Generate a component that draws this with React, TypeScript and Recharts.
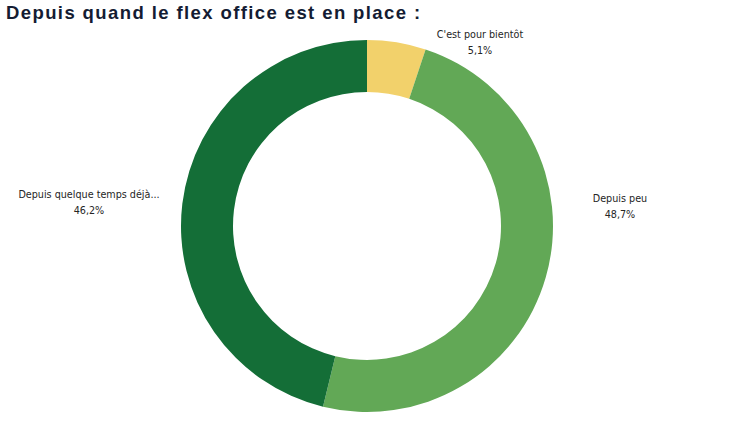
import React from 'react';
import { PieChart, Pie, Cell } from 'recharts';

const categories = ["C'est pour bientôt", 'Depuis peu', 'Depuis quelque temps déjà...'];
const shares = [5.1, 48.7, 46.2];
const colors = ['#F2D16B', '#62A856', '#146E37'];

// where each label sits, relative to the pie centre
const labelOffsets = [
  { dx: 113, dy: -188 },
  { dx: 253, dy: -24 },
  { dx: -278, dy: -28 },
];

const data = categories.map((name, i) => ({ name, value: shares[i] }));

const fmt = (v: number) => `${v.toFixed(1).replace('.', ',')}%`;

const renderLabel = (props: any) => {
  const { cx, cy, index, value } = props;
  const off = labelOffsets[index];
  const x = cx + off.dx;
  const y = cy + off.dy;
  return (
    <text
      x={x}
      y={y}
      textAnchor="middle"
      fill="#252525"
      fontSize={10.7}
      fontFamily="'DejaVu Sans Condensed', 'Liberation Sans Narrow', sans-serif"
    >
      <tspan x={x} dy={0}>{categories[index]}</tspan>
      <tspan x={x} dy={15.5}>{fmt(value)}</tspan>
    </text>
  );
};

export default function App() {
  return (
    <div style={{ position: 'absolute', left: 0, top: 0, width: 736, height: 433, background: '#fff' }}>
      <div
        style={{
          position: 'absolute',
          left: 6,
          top: 2,
          fontFamily: "'Liberation Sans', Arial, sans-serif",
          fontWeight: 700,
          fontSize: 18.5,
          letterSpacing: 1.4,
          color: '#141C33',
          whiteSpace: 'nowrap',
        }}
      >
        Depuis quand le flex office est en place :
      </div>
      <PieChart
        width={736}
        height={433}
        margin={{ top: 0, right: 0, bottom: 0, left: 0 }}
        style={{ position: 'absolute', left: 0, top: 0 }}
      >
        <Pie
          data={data}
          dataKey="value"
          nameKey="name"
          cx={367}
          cy={226}
          innerRadius={134}
          outerRadius={186}
          startAngle={90}
          endAngle={-270}
          stroke="none"
          label={renderLabel}
          labelLine={false}
          isAnimationActive={false}
        >
          {data.map((d, i) => (
            <Cell key={d.name} fill={colors[i]} />
          ))}
        </Pie>
      </PieChart>
    </div>
  );
}
